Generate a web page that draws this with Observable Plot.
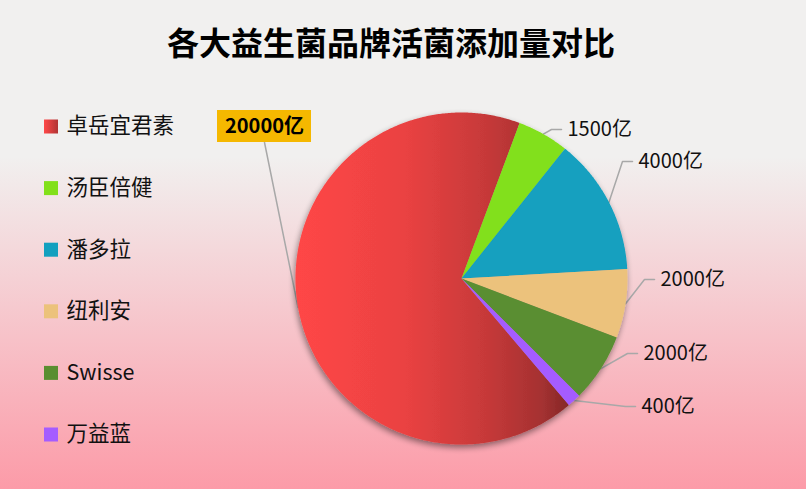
<!DOCTYPE html>
<html><head><meta charset="utf-8">
<script src="https://cdn.jsdelivr.net/npm/d3@7"></script>
<script src="https://cdn.jsdelivr.net/npm/@observablehq/plot@0.6"></script>
<style>
html,body{margin:0;padding:0;}
body{width:806px;height:489px;overflow:hidden;position:relative;
  background:linear-gradient(to bottom,#f1f0ef 0%,#f1f0ef 32%,#fc9ba8 100%);
  font-family:"Noto Sans CJK SC","Noto Sans",sans-serif;}
#title{position:absolute;left:0;top:18px;width:782px;text-align:center;font-size:32px;font-weight:700;color:#000;line-height:46px;z-index:2;}
#chart{position:absolute;left:0;top:0;}
</style></head><body>
<div id="title">各大益生菌品牌活菌添加量对比</div>
<div id="chart"></div>
<script>
// ---- data ----
const brands  = ["卓岳宜君素", "汤臣倍健", "潘多拉", "纽利安", "Swisse", "万益蓝"];
const amounts = [20000, 1500, 4000, 2000, 2000, 400];
const unit = "亿";
const sliceColors  = ["url(#gRed)", "#82e01a", "#12a0bf", "#ecc27b", "#5a8e30", "#a55cff"];
const legendColors = ["url(#gRedSw)", "#82e01a", "#12a0bf", "#ecc27b", "#5a8e30", "#a55cff"];

// ---- layout ----
const W = 806, H = 489;
const cx = 461, cy = 278, R = 166, startDeg = 139.7;
const labelAt = [[264,126],[567,129],[638,161],[660,279],[643,353],[641,406]];
const legendX = 50.5, legendY0 = 126, legendStep = 61.6;

const total = d3.sum(amounts);
const toXY = (deg, r) => {
  const a = deg * Math.PI / 180;
  return [cx + r * Math.sin(a), cy - r * Math.cos(a)];
};

const slicePts = [];
const leaders = [];
const labelRows = [];
let acc = startDeg;
brands.forEach((b, i) => {
  const a0 = acc, a1 = acc + amounts[i] / total * 360;
  acc = a1;
  const pts = [];
  const [x0, y0] = toXY(a0, 0);
  pts.push({name: b, x: x0, y: y0});
  const n = Math.max(2, Math.ceil((a1 - a0) / 0.5));
  for (let k = 0; k <= n; k++) {
    const [x, y] = toXY(a0 + (a1 - a0) * k / n, R);
    pts.push({name: b, x, y});
  }
  pts.push({name: b, x: x0, y: y0});
  slicePts.push(pts);
  const mid = (a0 + a1) / 2;
  const [ex, ey] = toXY(mid, R);
  const [tx, ty] = labelAt[i];
  leaders.push({name: b, x: ex, y: ey});
  if (i === 0) {
    leaders.push({name: b, x: tx, y: ty + 16});
  } else {
    leaders.push({name: b, x: tx - 16, y: ty});
    leaders.push({name: b, x: tx - 6, y: ty});
  }
  labelRows.push({i, text: amounts[i] + unit, x: tx, y: ty});
});

const legendRows = brands.map((b, i) => ({b, i, y: legendY0 + i * legendStep, fill: legendColors[i]}));

const sliceMarks = slicePts.map((pts, i) =>
  Plot.line(pts, {x: "x", y: "y", fill: sliceColors[i], stroke: "none"})
);

const plot = Plot.plot({
  width: W, height: H,
  margin: 0,
  x: {type: "identity", axis: null},
  y: {type: "identity", axis: null},
  color: {type: "identity"},
  style: {background: "transparent", fontFamily: "'Noto Sans CJK SC','Noto Sans',sans-serif", overflow: "visible"},
  marks: [
    Plot.line(leaders, {x: "x", y: "y", z: "name", stroke: "#a8a8a8", strokeWidth: 1.5}),
    ...sliceMarks,
    Plot.rect(labelRows.filter(d => d.i === 0), {x1: d => d.x - 47, x2: d => d.x + 47, y1: d => d.y - 16, y2: d => d.y + 16, fill: "#f5b800"}),
    Plot.text(labelRows.filter(d => d.i === 0), {x: "x", y: "y", text: "text", fontSize: 20, fontWeight: 700, fill: "#000", textAnchor: "middle"}),
    Plot.text(labelRows.filter(d => d.i > 0), {x: "x", y: "y", text: "text", fontSize: 20, fill: "#111", textAnchor: "start"}),
    Plot.dot(legendRows, {x: () => legendX, y: "y", symbol: "square", r: 7.9, fill: d => d.fill, stroke: "none"}),
    Plot.text(legendRows, {x: () => 66, y: "y", text: "b", fontSize: 21.5, fill: "#111", textAnchor: "start"})
  ]
});

const svgEl = plot.tagName.toLowerCase() === "svg" ? plot : plot.querySelector("svg");
const svg = d3.select(svgEl);
const defs = svg.insert("defs", ":first-child");
function grad(id, stops) {
  const g = defs.append("linearGradient").attr("id", id)
    .attr("x1", 0).attr("y1", 0).attr("x2", 1).attr("y2", 0);
  stops.forEach(([o, c]) => g.append("stop").attr("offset", o).attr("stop-color", c));
}
grad("gRed", [[0, "#ff4646"], [0.4, "#ea4242"], [0.7, "#c63939"], [0.9, "#a53131"], [1, "#842828"]]);
grad("gRedSw", [[0, "#ff4848"], [1, "#b03434"]]);
const f = defs.append("filter").attr("id", "pieShadow")
  .attr("x", "-20%").attr("y", "-20%").attr("width", "140%").attr("height", "140%");
f.append("feGaussianBlur").attr("in", "SourceAlpha").attr("stdDeviation", 3).attr("result", "blur");
f.append("feOffset").attr("in", "blur").attr("dx", -1).attr("dy", 3).attr("result", "off");
f.append("feComponentTransfer").attr("in", "off").attr("result", "shadow")
  .append("feFuncA").attr("type", "linear").attr("slope", 0.45);
const mg = f.append("feMerge");
mg.append("feMergeNode").attr("in", "shadow");
mg.append("feMergeNode").attr("in", "SourceGraphic");

// group the slice layers so the pie casts one shadow
const sliceGs = Array.from(svgEl.querySelectorAll(":scope > g")).filter(g => sliceColors.includes(g.getAttribute("fill")));
if (sliceGs.length) {
  const wrap = document.createElementNS("http://www.w3.org/2000/svg", "g");
  wrap.setAttribute("filter", "url(#pieShadow)");
  sliceGs[0].parentNode.insertBefore(wrap, sliceGs[0]);
  sliceGs.forEach(g => wrap.appendChild(g));
}
document.getElementById("chart").appendChild(plot);
</script>
</body></html>
